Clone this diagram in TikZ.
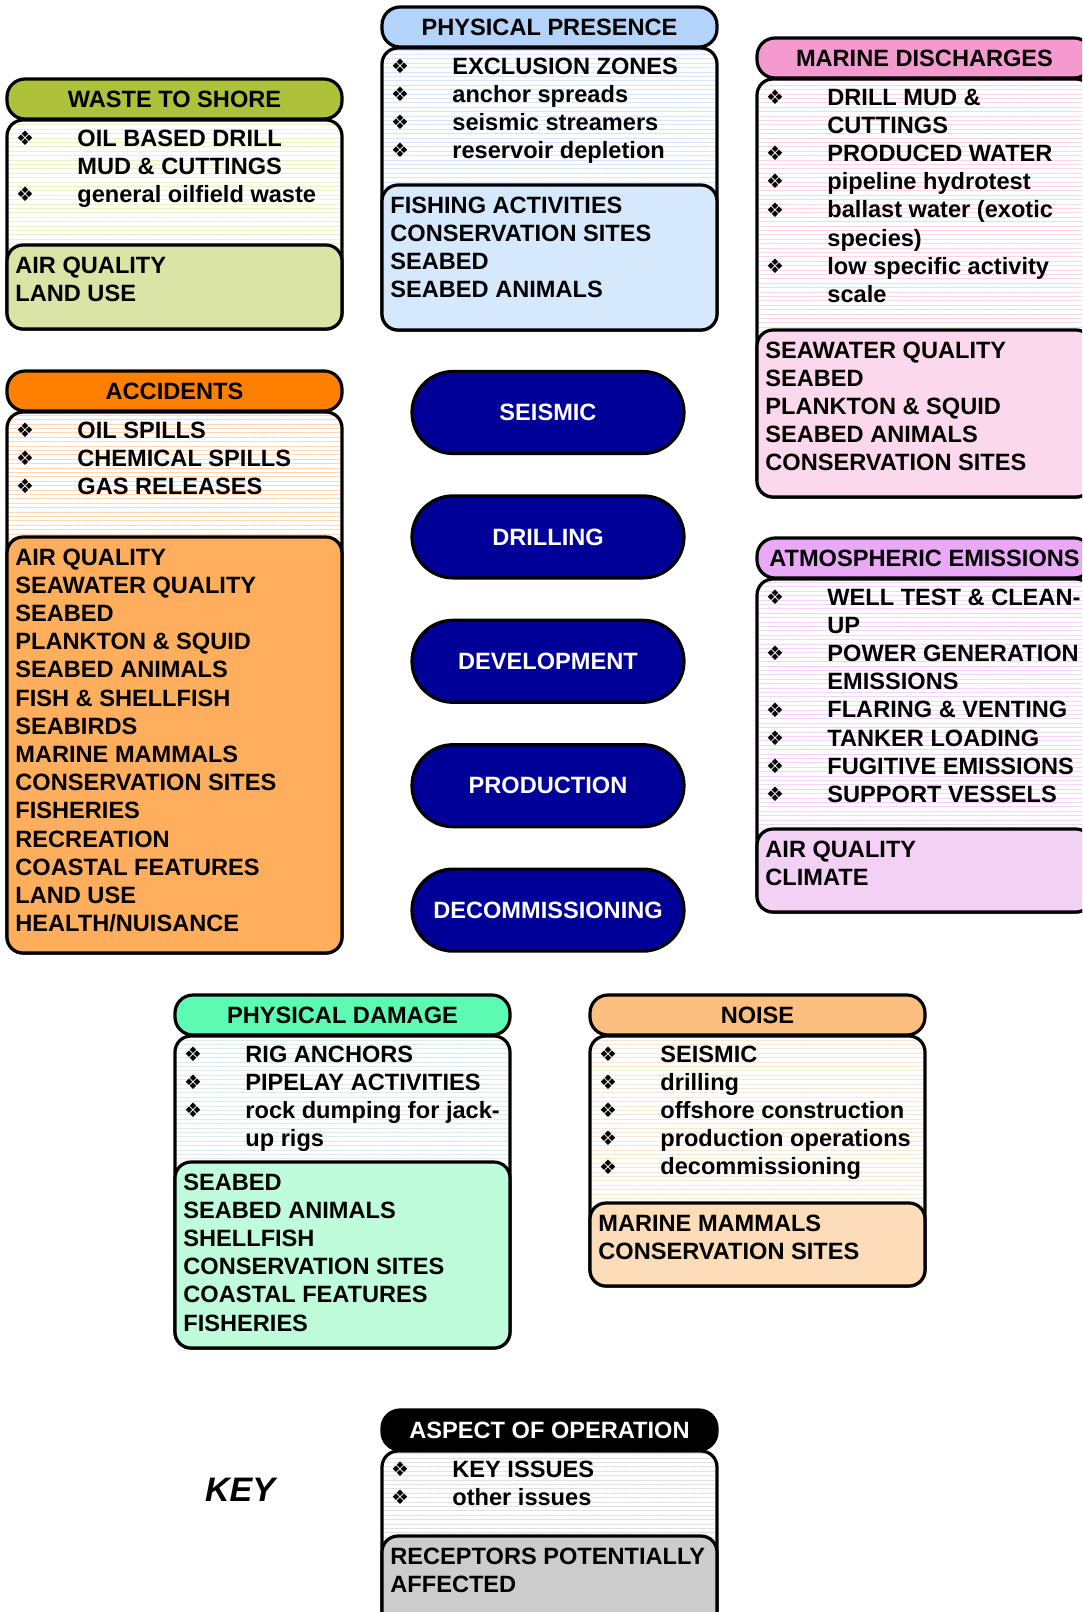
\documentclass[tikz,border=0pt]{standalone}
\usepackage{fontspec}
\setmainfont{Liberation Sans}
\newfontfamily\symfont{DejaVu Sans}
\usetikzlibrary{positioning, patterns.meta}

\definecolor{waste}{HTML}{ADC23A}
\definecolor{wasterec}{HTML}{D9E4A6}
\definecolor{wasteline}{HTML}{EAF0C8}
\definecolor{presence}{HTML}{B3D3FA}
\definecolor{presencerec}{HTML}{D6E8FC}
\definecolor{presenceline}{HTML}{D6E6FA}
\definecolor{discharge}{HTML}{F59ACF}
\definecolor{dischargerec}{HTML}{FCD8EC}
\definecolor{dischargeline}{HTML}{FAD4E8}
\definecolor{accident}{HTML}{FF7F00}
\definecolor{accidentrec}{HTML}{FFAE5E}
\definecolor{accidentline}{HTML}{FFD6AD}
\definecolor{emission}{HTML}{E9A9F6}
\definecolor{emissionrec}{HTML}{F2D1F4}
\definecolor{emissionline}{HTML}{F4D2FA}
\definecolor{damage}{HTML}{5CFAB2}
\definecolor{damagerec}{HTML}{BEFCDC}
\definecolor{damageline}{HTML}{D8EDE3}
\definecolor{noise}{HTML}{FCBF80}
\definecolor{noiserec}{HTML}{FDDCB9}
\definecolor{noiseline}{HTML}{F8E6D3}
\definecolor{keyhead}{HTML}{000000}
\definecolor{keyheadrec}{HTML}{CCCCCC}
\definecolor{keyheadline}{HTML}{E0E0E0}
\definecolor{pillblue}{HTML}{000099}

% box of one aspect: name, left, head top, receptor top, bottom, colour, title
\newcommand{\aspectbox}[7]{%
  \draw[boxline, pattern={Lines[angle=0,distance=2.2pt,line width=0.4pt]}, pattern color=#6line]
    (#2,#3+41) rectangle (#2+335,#5);
  \draw[boxline, fill=#6rec] (#2,#4) rectangle (#2+335,#5);
  \node[head, fill=#6] (#1) at (#2+167.5,#3+20) {#7};
}
% bulleted issues: name, left, head top, list of mark/text
\newcommand{\issues}[4]{%
  \foreach \mk/\txt [count=\i from 0] in {#4} {
    \node[issue] (#1-\i) at (#2+70,#3+67+28.2*\i) {\txt};
    \ifnum\mk=1 \node[bul] (#1-b\i) at (#2+18,#3+59+28.2*\i) {❖}; \fi
  }
}
% receptors: name, left, receptor top, list
\newcommand{\receptors}[4]{%
  \foreach \txt [count=\i from 0] in {#4}
    \node[issue] (#1-r\i) at (#2+8,#3+28+28.2*\i) {\txt};
}

\begin{document}
\begin{tikzpicture}[x=0.5pt, y=-0.5pt,
  font=\bfseries\fontsize{11.8}{14.1}\selectfont,
  boxline/.style={draw, line width=1.6pt, rounded corners=8pt},
  head/.style={draw, line width=1.6pt, rounded corners=9pt, minimum width=167.5pt,
    minimum height=20pt, inner sep=0pt},
  issue/.style={anchor=base west, inner sep=0pt},
  bul/.style={anchor=center, inner sep=0pt, font=\symfont\fontsize{10}{12}\selectfont},
  pill/.style={draw, line width=1.6pt, fill=pillblue, text=white, rounded corners=20.5pt,
    minimum width=136pt, minimum height=41pt, inner sep=0pt}]
  \useasboundingbox (0,0) rectangle (1082,1612);
  \clip (0,0) rectangle (1082,1612);

  % left column
  \aspectbox{waste}{7}{79}{245}{329}{waste}{WASTE TO SHORE}
  \issues{waste}{7}{79}{1/OIL BASED DRILL, 0/MUD \& CUTTINGS, 1/general oilfield waste}
  \receptors{waste}{7}{245}{AIR QUALITY, LAND USE}

  \aspectbox{acc}{7}{371}{537}{953}{accident}{ACCIDENTS}
  \issues{acc}{7}{371}{1/OIL SPILLS, 1/CHEMICAL SPILLS, 1/GAS RELEASES}
  \receptors{acc}{7}{537}{AIR QUALITY, SEAWATER QUALITY, SEABED, PLANKTON \& SQUID,
    SEABED ANIMALS, FISH \& SHELLFISH, SEABIRDS, MARINE MAMMALS, CONSERVATION SITES,
    FISHERIES, RECREATION, COASTAL FEATURES, LAND USE, {HEALTH/NUISANCE}}

  % middle column
  \aspectbox{pres}{382}{7}{185}{330}{presence}{PHYSICAL PRESENCE}
  \issues{pres}{382}{7}{1/EXCLUSION ZONES, 1/anchor spreads, 1/seismic streamers,
    1/reservoir depletion}
  \receptors{pres}{382}{185}{FISHING ACTIVITIES, CONSERVATION SITES, SEABED, SEABED ANIMALS}

  \node[pill] (seismic) at (548,412.5) {SEISMIC};
  \node[pill] (drilling) [below=19.6pt of seismic] {DRILLING};
  \node[pill] (development) [below=19.6pt of drilling] {DEVELOPMENT};
  \node[pill] (production) [below=19.6pt of development] {PRODUCTION};
  \node[pill] (decom) [below=19.6pt of production] {DECOMMISSIONING};

  % right column
  \aspectbox{dis}{757}{38}{330}{497}{discharge}{MARINE DISCHARGES}
  \issues{dis}{757}{38}{1/DRILL MUD \&, 0/CUTTINGS, 1/PRODUCED WATER, 1/pipeline hydrotest,
    1/ballast water (exotic, 0/species), 1/low specific activity, 0/scale}
  \receptors{dis}{757}{330}{SEAWATER QUALITY, SEABED, PLANKTON \& SQUID, SEABED ANIMALS,
    CONSERVATION SITES}

  \aspectbox{emi}{757}{538}{829}{912}{emission}{ATMOSPHERIC EMISSIONS}
  \issues{emi}{757}{538}{1/WELL TEST \& CLEAN-, 0/UP, 1/POWER GENERATION, 0/EMISSIONS,
    1/FLARING \& VENTING, 1/TANKER LOADING, 1/FUGITIVE EMISSIONS, 1/SUPPORT VESSELS}
  \receptors{emi}{757}{829}{AIR QUALITY, CLIMATE}

  % lower row
  \aspectbox{dam}{175}{995}{1162}{1348}{damage}{PHYSICAL DAMAGE}
  \issues{dam}{175}{995}{1/RIG ANCHORS, 1/PIPELAY ACTIVITIES, 1/rock dumping for jack-,
    0/up rigs}
  \receptors{dam}{175}{1162}{SEABED, SEABED ANIMALS, SHELLFISH, CONSERVATION SITES,
    COASTAL FEATURES, FISHERIES}

  \aspectbox{noise}{590}{995}{1203}{1286}{noise}{NOISE}
  \issues{noise}{590}{995}{1/SEISMIC, 1/drilling, 1/offshore construction,
    1/production operations, 1/decommissioning}
  \receptors{noise}{590}{1203}{MARINE MAMMALS, CONSERVATION SITES}

  % key
  \node (keylabel) at (240,1490) {\fontsize{17}{20}\selectfont\itshape KEY};
  \aspectbox{key}{382}{1410}{1536}{1650}{keyhead}{\color{white}ASPECT OF OPERATION}
  \issues{key}{382}{1410}{1/KEY ISSUES, 1/other issues}
  \receptors{key}{382}{1536}{RECEPTORS POTENTIALLY, AFFECTED}
\end{tikzpicture}
\end{document}
